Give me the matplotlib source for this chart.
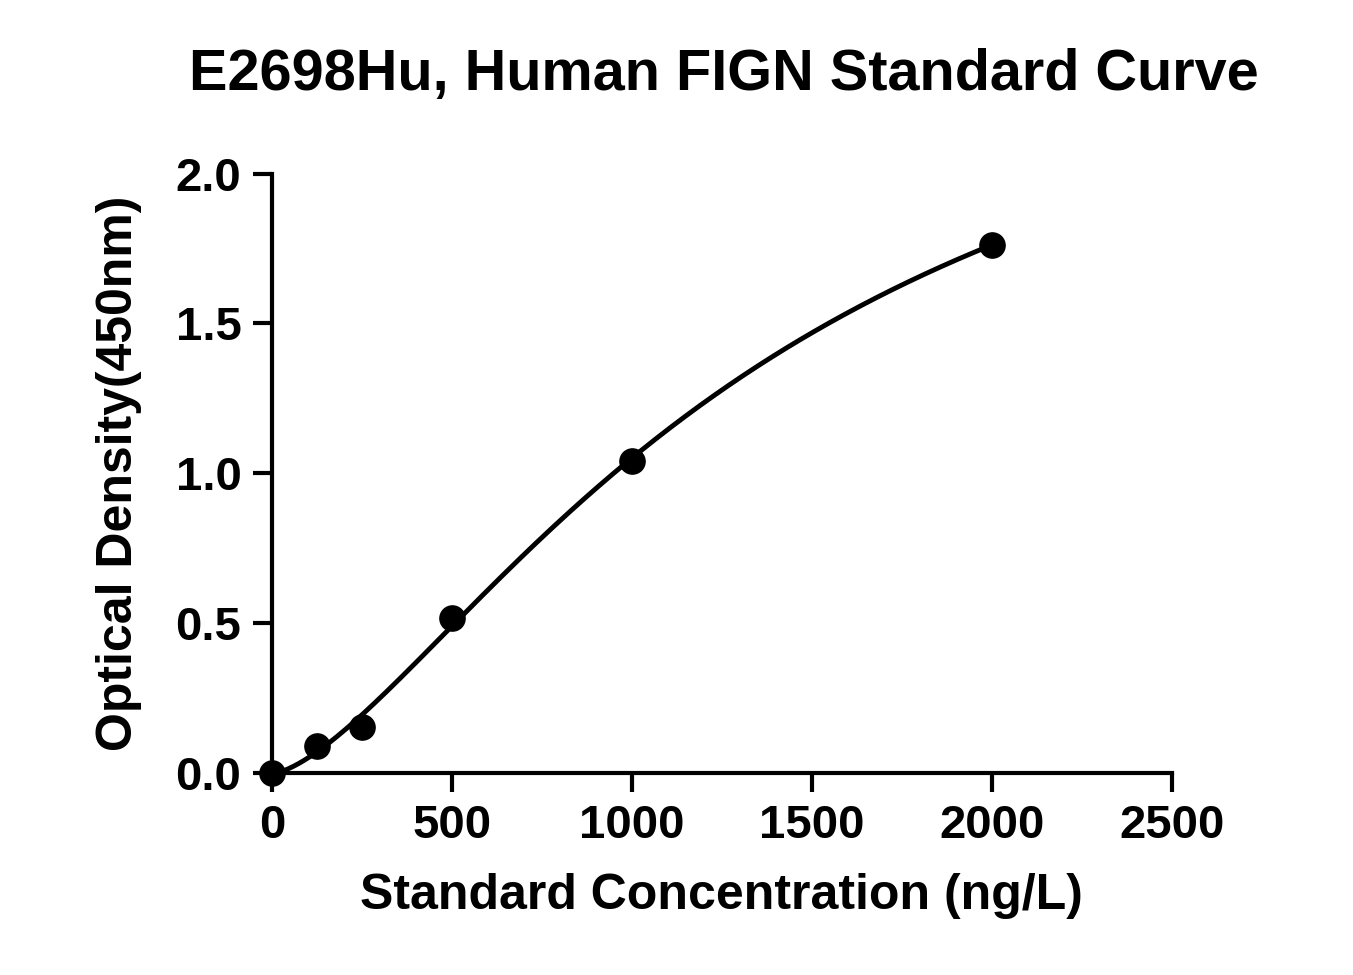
import numpy as np
import matplotlib.pyplot as plt

plt.rcParams['font.family'] = ['Liberation Sans', 'DejaVu Sans']
plt.rcParams['font.weight'] = 'bold'

# standard points
conc = np.array([0, 125, 250, 500, 1000, 2000])
od = np.array([0.0, 0.09, 0.154, 0.518, 1.042, 1.763])

x_ticks = [0, 500, 1000, 1500, 2000, 2500]
y_ticks = [0.0, 0.5, 1.0, 1.5, 2.0]


def fit_4pl(x, y):
    # grid over slope/midpoint, linear least squares for the asymptotes
    best = None
    for b in np.linspace(1.0, 4.0, 61):
        for c in np.linspace(400, 6000, 281):
            g = 1.0 / (1.0 + (x / c) ** b)
            A = np.column_stack([g, 1 - g])
            p, *_ = np.linalg.lstsq(A, y, rcond=None)
            r = np.sum((A @ p - y) ** 2)
            if best is None or r < best[0]:
                best = (r, p[0], p[1], b, c)
    _, a, d, b, c = best
    return lambda t: d + (a - d) / (1.0 + (t / c) ** b)


fig = plt.figure(figsize=(13.53, 9.75), dpi=100)
ax = fig.add_axes([0.201, 0.207, 0.665, 0.615])

curve = fit_4pl(conc, od)
xs = np.linspace(0, 2000, 400)
ax.plot(xs, curve(xs), color='black', lw=3.5, zorder=2)
ax.scatter(conc, od, s=330, color='black', zorder=3, clip_on=False)

ax.set_xlim(0, 2500)
ax.set_ylim(0, 2.0)
ax.set_xticks(x_ticks)
ax.set_yticks(y_ticks)
ax.set_yticklabels([f"{v:.1f}" for v in y_ticks])
for s in ['top', 'right']:
    ax.spines[s].set_visible(False)
for s in ['left', 'bottom']:
    ax.spines[s].set_linewidth(3)
ax.tick_params(width=3, length=14, labelsize=34, pad=8)

ax.set_xlabel('Standard Concentration (ng/L)', fontsize=36, fontweight='bold', labelpad=18)
ax.set_ylabel('Optical Density(450nm)', fontsize=36, fontweight='bold', labelpad=24)
fig.text(0.535, 0.923, 'E2698Hu, Human FIGN Standard Curve', ha='center', va='center',
         fontsize=41.5, fontweight='bold')

fig.savefig('out.png', dpi=100)
